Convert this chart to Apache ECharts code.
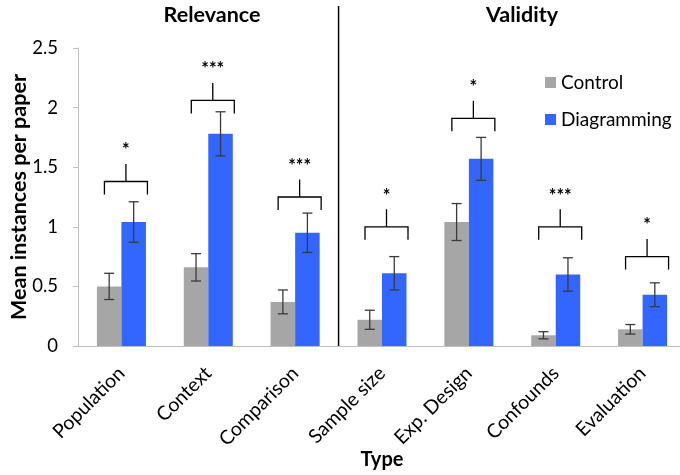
<!DOCTYPE html>
<html>
<head>
<meta charset="utf-8">
<script src="https://cdn.jsdelivr.net/npm/echarts@6/dist/echarts.min.js"></script>
<style>html,body{margin:0;padding:0;background:#fff;}#c{width:680px;height:475px;}</style>
</head>
<body>
<div id="c"></div>
<script>
const categories = ['Population', 'Context', 'Comparison', 'Sample size', 'Exp. Design', 'Confounds', 'Evaluation'];
const controlMean = [0.50, 0.66, 0.37, 0.22, 1.04, 0.09, 0.14];
const controlErr = [0.11, 0.115, 0.10, 0.08, 0.155, 0.03, 0.04];
const diagMean = [1.04, 1.78, 0.95, 0.61, 1.57, 0.60, 0.43];
const diagErr = [0.17, 0.185, 0.165, 0.14, 0.18, 0.14, 0.10];
const bracketLevel = [1.38, 2.06, 1.25, 1.00, 1.91, 1.00, 0.75];
const sigLabels = ['*', '***', '***', '*', '*', '***', '*'];
const groupTitles = ['Relevance', 'Validity'];
const groupBoundary = [3];
const seriesNames = ['Control', 'Diagramming'];

const FONT = 'Lato, "Open Sans", sans-serif';
const BAR_W = 24.5;
const GRAY = '#a6a6a6';
const BLUE = '#3366ff';
const ERR_COLOR = '#3a3a3a';

function errData(mean, err) {
  return mean.map((m, i) => [i, m - err[i], m + err[i]]);
}

function errRender(offset) {
  return function (params, api) {
    const i = api.value(0);
    const lo = api.coord([i, api.value(1)]);
    const hi = api.coord([i, api.value(2)]);
    const x = lo[0] + offset;
    const cap = 5;
    const style = { stroke: ERR_COLOR, lineWidth: 1.3, fill: null };
    return {
      type: 'group',
      children: [
        { type: 'line', shape: { x1: x, y1: lo[1], x2: x, y2: hi[1] }, style },
        { type: 'line', shape: { x1: x - cap, y1: lo[1], x2: x + cap, y2: lo[1] }, style },
        { type: 'line', shape: { x1: x - cap, y1: hi[1], x2: x + cap, y2: hi[1] }, style }
      ]
    };
  };
}

function bracketRender(params, api) {
  const i = api.value(0);
  const p = api.coord([i, api.value(1)]);
  const cx = p[0], y = p[1];
  const xl = cx - 17, xr = cx + 26, xm = cx + 4.5;
  const style = { stroke: '#000', lineWidth: 1.3, fill: null };
  return {
    type: 'group',
    children: [
      { type: 'polyline', shape: { points: [[xl, y + 13], [xl, y], [xr, y], [xr, y + 13]] }, style },
      { type: 'line', shape: { x1: xm, y1: y, x2: xm, y2: y - 17.5 }, style },
      { type: 'text', style: { text: sigLabels[params.dataIndex], x: xm, y: y - 40, align: 'center', verticalAlign: 'top', fontSize: 18, fontWeight: 'bold', fontFamily: FONT, fill: '#000' } }
    ]
  };
}

function separatorRender(params, api) {
  const i = api.value(0);
  const base = api.coord([i, 0]);
  const w = api.size([1, 0])[0];
  const x = base[0] - w / 2;
  return {
    type: 'line',
    shape: { x1: x, y1: 6, x2: x, y2: base[1] },
    style: { stroke: '#000', lineWidth: 1.5 }
  };
}

const chart = echarts.init(document.getElementById('c'), null, { renderer: 'canvas' });
chart.setOption({
  animation: false,
  textStyle: { fontFamily: FONT },
  title: [
    { text: groupTitles[0], left: 212, top: 4, padding: 0, textAlign: 'center', textStyle: { fontFamily: FONT, fontSize: 21.5, fontWeight: 'bold', color: '#000' } },
    { text: groupTitles[1], left: 522, top: 4, padding: 0, textAlign: 'center', textStyle: { fontFamily: FONT, fontSize: 21.5, fontWeight: 'bold', color: '#000' } }
  ],
  legend: {
    data: seriesNames,
    orient: 'vertical',
    left: 545,
    top: 73,
    padding: 0,
    itemWidth: 11,
    itemHeight: 11,
    itemGap: 18,
    icon: 'rect',
    textStyle: { fontFamily: FONT, fontSize: 19, color: '#000' }
  },
  grid: { left: 78, right: -6, top: 48, bottom: 129, containLabel: false, outerBoundsMode: 'none' },
  xAxis: {
    type: 'category',
    data: categories,
    name: 'Type',
    nameLocation: 'middle',
    nameGap: 104,
    nameMoveOverlap: false,
    nameTextStyle: { fontFamily: FONT, fontSize: 20, fontWeight: 'bold', color: '#000' },
    axisLine: { lineStyle: { color: '#bfbfbf', width: 1 } },
    axisTick: { length: 6, lineStyle: { color: '#bfbfbf' } },
    axisLabel: { rotate: 45, fontSize: 19.5, color: '#000', margin: 24, fontFamily: FONT }
  },
  yAxis: {
    type: 'value',
    min: 0,
    max: 2.5,
    interval: 0.5,
    name: 'Mean instances per paper',
    nameLocation: 'middle',
    nameGap: 48,
    nameMoveOverlap: false,
    nameTextStyle: { fontFamily: FONT, fontSize: 21.5, fontWeight: 'bold', color: '#000' },
    axisLine: { show: true, lineStyle: { color: '#bfbfbf', width: 1 } },
    axisTick: { show: true, length: 5, lineStyle: { color: '#bfbfbf' } },
    axisLabel: { fontSize: 18.5, color: '#000', margin: 20, fontFamily: FONT },
    splitLine: { show: false }
  },
  series: [
    { name: seriesNames[0], type: 'bar', data: controlMean, barWidth: BAR_W, barGap: '0%', itemStyle: { color: GRAY } },
    { name: seriesNames[1], type: 'bar', data: diagMean, barWidth: BAR_W, barGap: '0%', itemStyle: { color: BLUE } },
    { type: 'custom', name: 'errControl', data: errData(controlMean, controlErr), renderItem: errRender(-BAR_W / 2), encode: { x: 0, y: [1, 2] }, z: 5 },
    { type: 'custom', name: 'errDiag', data: errData(diagMean, diagErr), renderItem: errRender(BAR_W / 2), encode: { x: 0, y: [1, 2] }, z: 5 },
    { type: 'custom', name: 'brackets', data: bracketLevel.map((v, i) => [i, v]), renderItem: bracketRender, encode: { x: 0, y: 1 }, clip: false, z: 5 },
    { type: 'custom', name: 'separator', data: groupBoundary.map(i => [i]), renderItem: separatorRender, encode: { x: 0 }, clip: false, z: 6 }
  ]
});
</script>
</body>
</html>
